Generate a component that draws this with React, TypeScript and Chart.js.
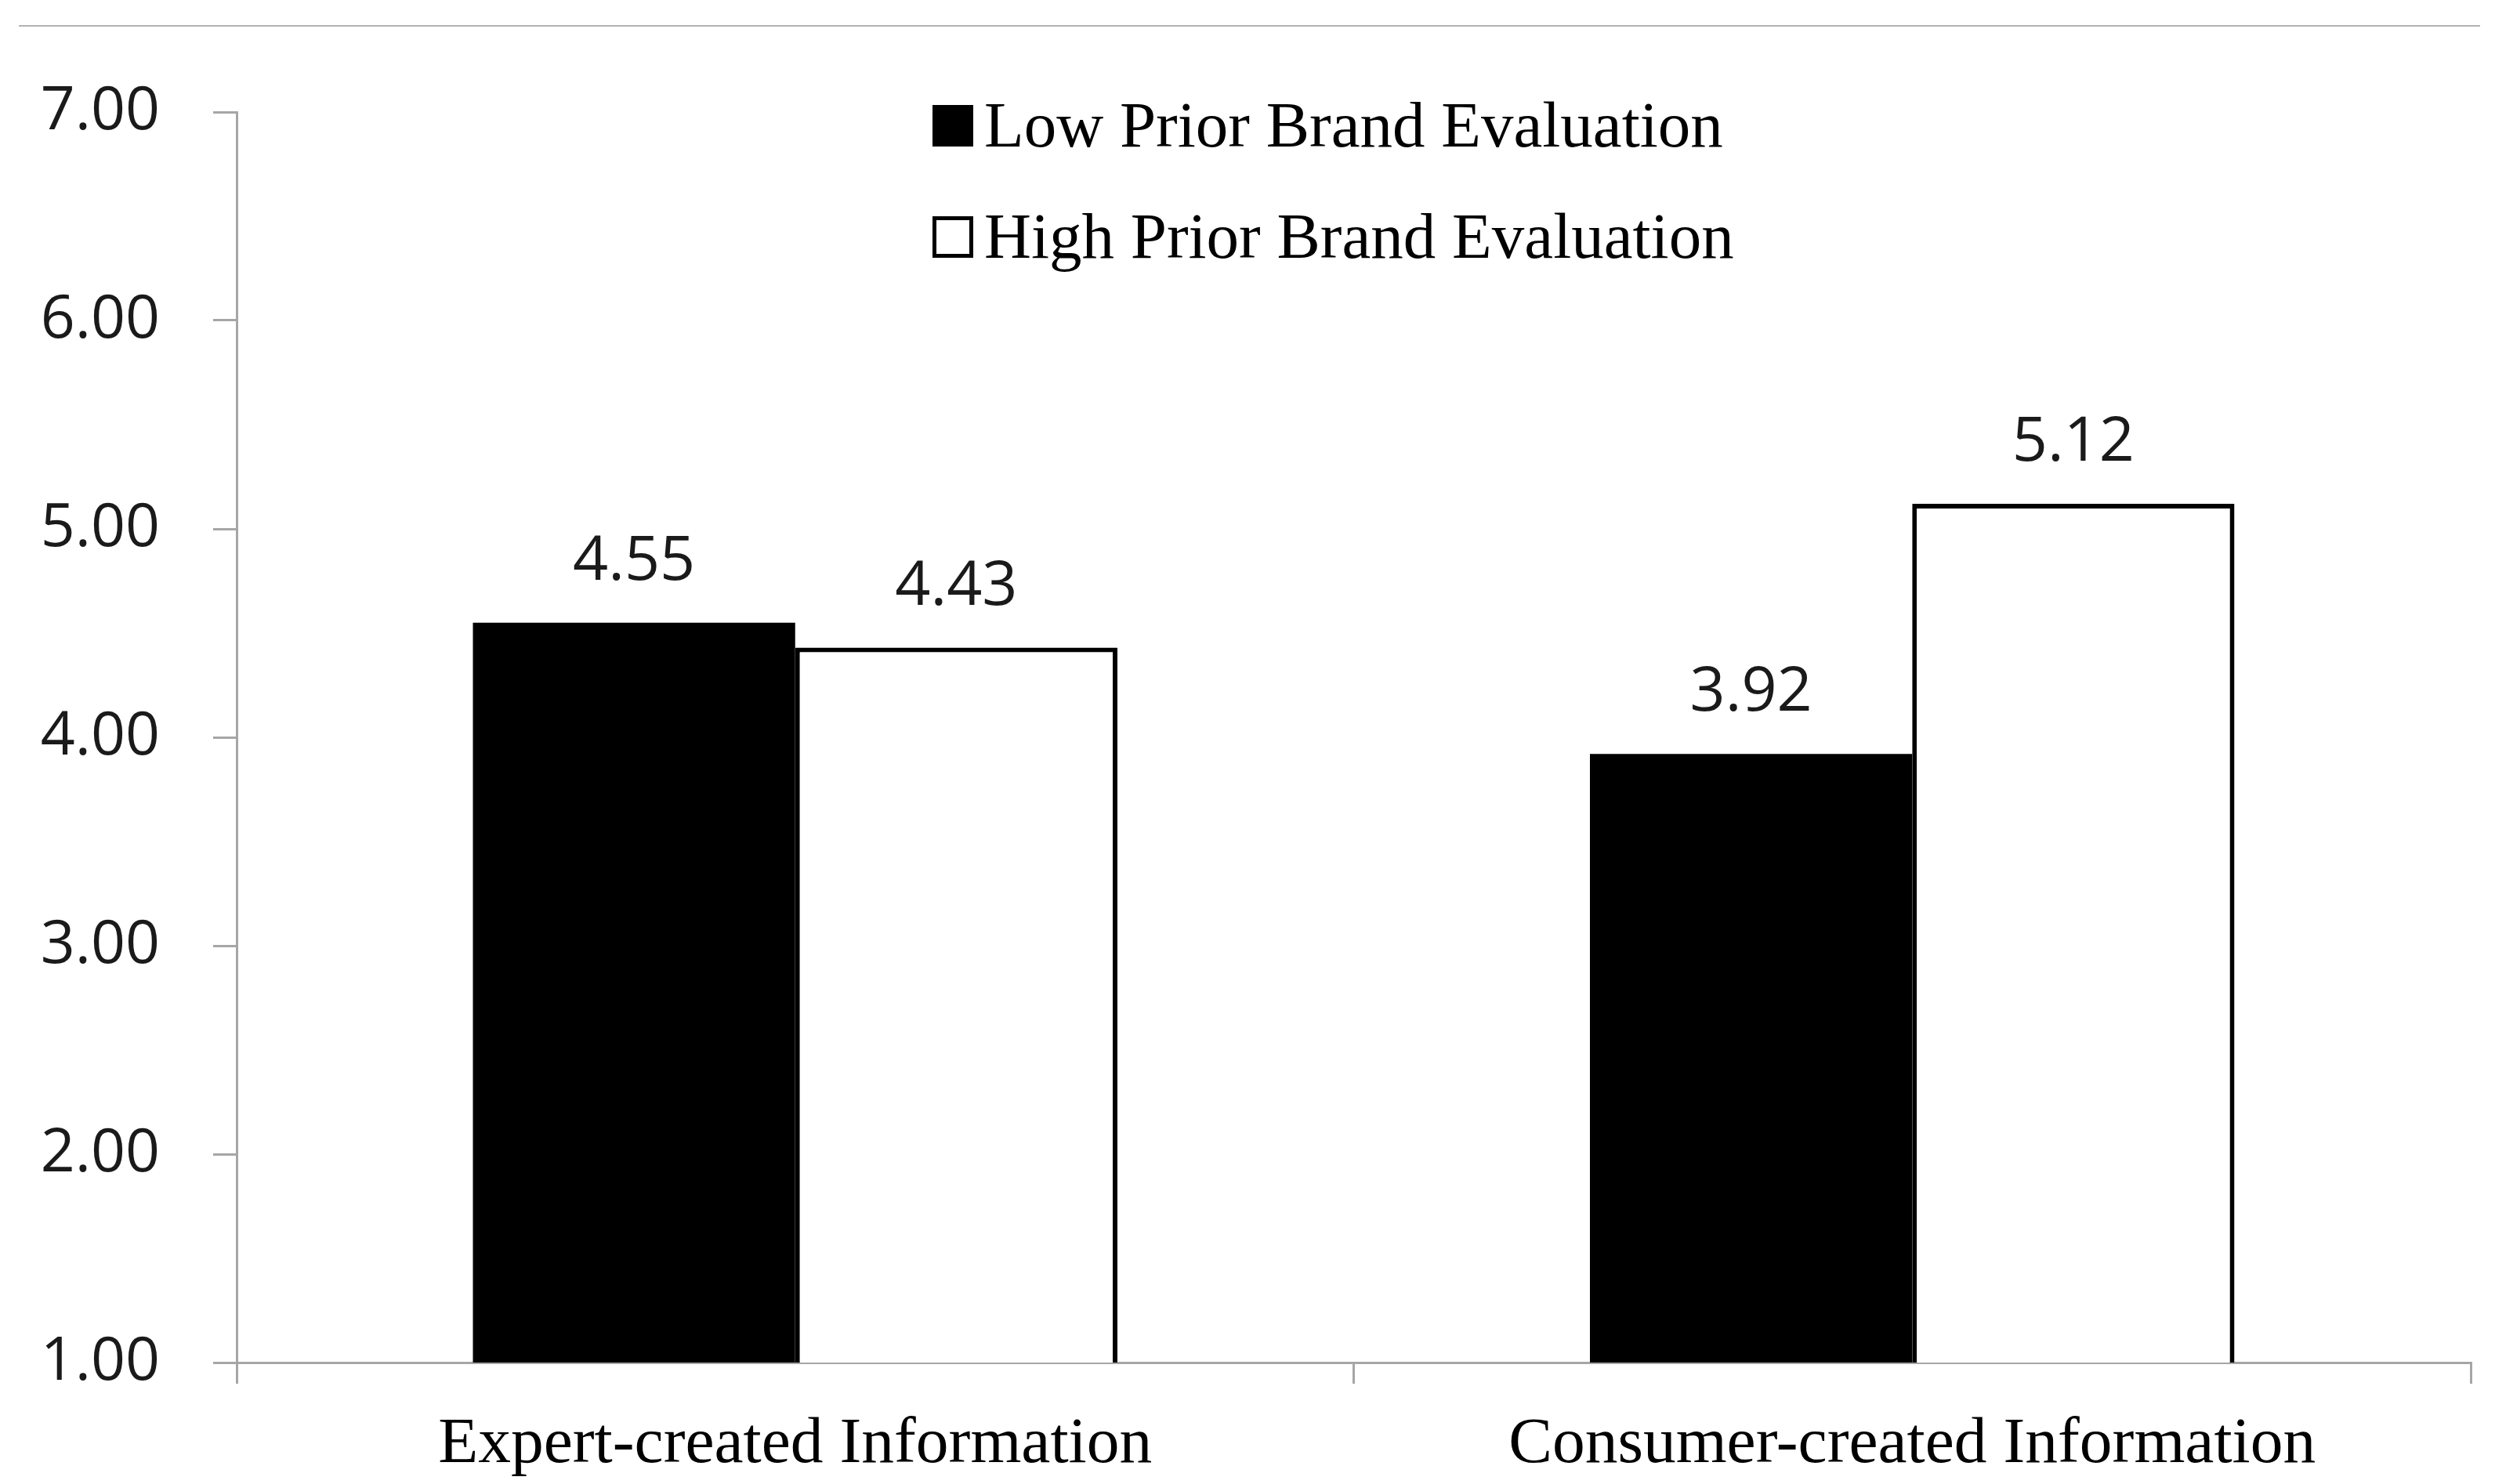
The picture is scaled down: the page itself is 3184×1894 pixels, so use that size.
import React, { useEffect, useRef } from "react";
import { Chart, registerables } from "chart.js";

Chart.register(...registerables);

const categories = ["Expert-created Information", "Consumer-created Information"];
const seriesNames = ["Low Prior Brand Evaluation", "High Prior Brand Evaluation"];
const lowPrior = [4.55, 3.92];
const highPrior = [4.43, 5.12];
const yTicks = [1, 2, 3, 4, 5, 6, 7];

export default function App() {
  const ref = useRef<HTMLCanvasElement>(null);

  useEffect(() => {
    document.body.style.margin = "0";
    const canvas = ref.current;
    if (!canvas) return;
    const AXIS = "#a6a6a6";

    const valueLabels = {
      id: "valueLabels",
      afterDatasetsDraw(chart: any) {
        const c = chart.ctx;
        c.save();
        c.font = "79px 'Open Sans'";
        c.fillStyle = "#1a1a1a";
        c.textAlign = "center";
        c.textBaseline = "alphabetic";
        chart.data.datasets.forEach((ds: any, i: number) => {
          const meta = chart.getDatasetMeta(i);
          meta.data.forEach((el: any, j: number) => {
            const v = ds.data[j] as number;
            c.fillText(v.toFixed(2), el.x, el.y - 55);
          });
        });
        c.restore();
      },
    };

    const innerLegend = {
      id: "innerLegend",
      afterDraw(chart: any) {
        const c = chart.ctx;
        const a = chart.chartArea;
        c.save();
        c.font = "83px 'Liberation Serif'";
        c.textBaseline = "alphabetic";
        c.textAlign = "left";
        chart.data.datasets.forEach((ds: any, i: number) => {
          const base = a.top + 44 + i * 142;
          const bx = a.left + 888;
          c.fillStyle = ds.backgroundColor;
          c.fillRect(bx, base - 53, 52, 53);
          c.strokeStyle = "#000";
          c.lineWidth = 5;
          c.strokeRect(bx + 2.5, base - 50.5, 47, 48);
          c.fillStyle = "#000";
          c.fillText(ds.label, bx + 66, base);
        });
        c.restore();
      },
    };

    const chart = new Chart(canvas, {
      type: "bar",
      data: {
        labels: categories,
        datasets: [
          {
            label: seriesNames[0],
            data: lowPrior,
            backgroundColor: "#000000",
            borderColor: "#000000",
            borderWidth: 0,
            barPercentage: 1,
            categoryPercentage: 0.577,
          },
          {
            label: seriesNames[1],
            data: highPrior,
            backgroundColor: "#ffffff",
            borderColor: "#000000",
            borderWidth: 6,
            barPercentage: 1,
            categoryPercentage: 0.577,
          },
        ],
      },
      options: {
        responsive: false,
        animation: false,
        layout: { padding: { top: 143, right: 31, left: 0, bottom: 0 } },
        plugins: {
          legend: { display: false },
          tooltip: { enabled: false },
        },
        scales: {
          x: {
            afterFit: (s: any) => {
              s.height = 155;
            },
            grid: {
              display: true,
              drawOnChartArea: false,
              drawTicks: true,
              tickLength: 27,
              color: AXIS,
              lineWidth: 3,
              offset: true,
            },
            border: { display: true, color: AXIS, width: 3 },
            ticks: {
              color: "#000",
              padding: 28,
              maxRotation: 0,
              font: { family: "'Liberation Serif'", size: 83.5 },
            },
          },
          y: {
            min: 1,
            max: 7,
            afterFit: (s: any) => {
              s.width = 302;
            },
            afterBuildTicks: (s: any) => {
              s.ticks = yTicks.map((v) => ({ value: v }));
            },
            grid: {
              display: true,
              drawOnChartArea: false,
              drawTicks: true,
              tickLength: 30,
              color: AXIS,
              lineWidth: 3,
            },
            border: { display: true, color: AXIS, width: 3 },
            ticks: {
              color: "#1a1a1a",
              padding: 68,
              font: { family: "'Open Sans'", size: 77 },
              callback: (v: any) => Number(v).toFixed(2),
            },
          },
        },
      },
      plugins: [valueLabels, innerLegend],
    });

    return () => {
      chart.destroy();
    };
  }, []);

  return (
    <div style={{ position: "relative", width: 3184, height: 1894, background: "#fff" }}>
      <div
        style={{
          position: "absolute",
          top: 32,
          left: 24,
          width: 3141,
          height: 0,
          borderTop: "2px solid #b3b3b3",
        }}
      />
      <canvas
        ref={ref}
        width={3184}
        height={1894}
        style={{ display: "block", width: 3184, height: 1894 }}
      />
    </div>
  );
}
